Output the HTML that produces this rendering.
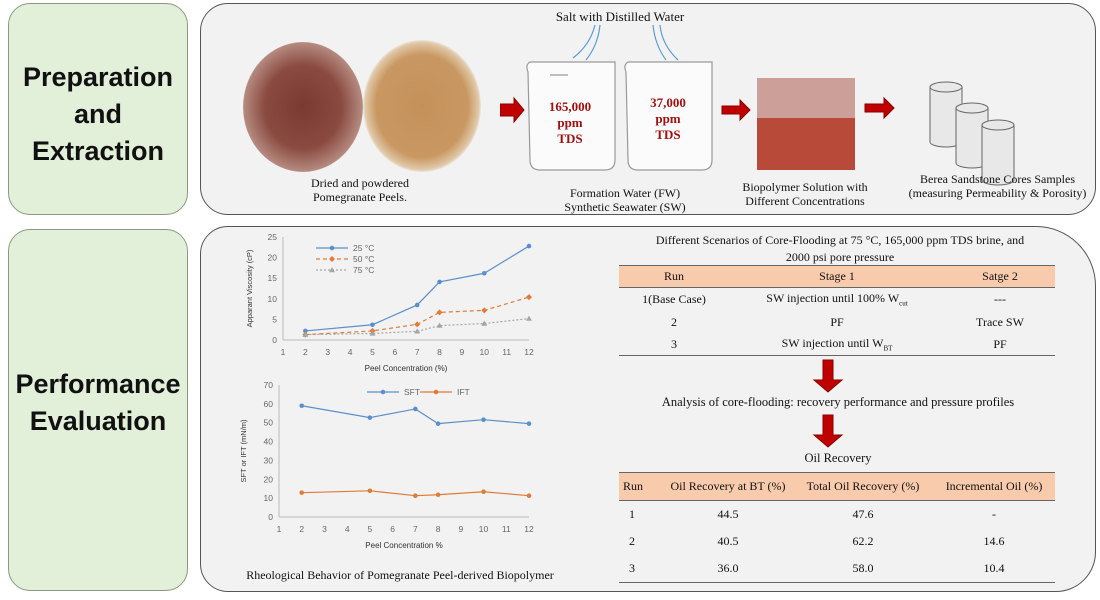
<!DOCTYPE html>
<html><head><meta charset="utf-8">
<style>
body{margin:0;width:1100px;height:600px;background:#fff;position:relative;overflow:hidden;font-family:"Liberation Serif",serif;color:#111}
.abs{position:absolute}
.green{background:#e2efd9;border:1px solid #8a9a80;border-radius:22px}
.gray{background:#f2f2f2;border:1.5px solid #555}
.big{font-family:"Liberation Sans",sans-serif;font-weight:bold;font-size:27px;text-align:center;line-height:37px}
.t{font-size:12px;text-align:center;line-height:14px}
.tbl td{padding:0;text-align:center;font-size:12px}
</style></head><body>
<div class="abs green" style="left:8px;top:3px;width:178px;height:210px"></div>
<div class="abs big" style="left:8px;top:59px;width:180px">Preparation<br>and<br>Extraction</div>
<div class="abs green" style="left:8px;top:229px;width:178px;height:360px"></div>
<div class="abs big" style="left:8px;top:366px;width:180px">Performance<br>Evaluation</div>

<div class="abs gray" style="left:200px;top:3px;width:894px;height:210px;border-radius:28px"></div>
<div class="abs gray" style="left:200px;top:226px;width:894px;height:364px;border-radius:28px 60px 40px 28px"></div>

<!-- top panel -->
<div class="abs" style="left:243px;top:42px;width:120px;height:130px;border-radius:50%;background:radial-gradient(ellipse,#7a3a32 0%,#8a4a40 45%,#b58a80 70%,#f2f2f2 72%)"></div>
<div class="abs" style="left:363px;top:40px;width:118px;height:132px;border-radius:50%;background:radial-gradient(ellipse,#c4915a 0%,#c99862 55%,#e0c8a8 68%,#f2f2f2 72%)"></div>
<div class="abs t" style="left:290px;top:176px;width:140px">Dried and powdered<br>Pomegranate Peels.</div>
<div class="abs t" style="left:540px;top:10px;width:160px;font-size:13px">Salt with Distilled Water</div>
<svg class="abs" style="left:500px;top:20px" width="600" height="200">
<g fill="#c00000" stroke="#800" stroke-width="1">
<polygon points="0,84 14,84 14,78 24,90 14,102 14,96 0,96"/>
<polygon points="222,86 240,86 240,80 250,90 240,100 240,94 222,94"/>
<polygon points="365,84 384,84 384,78 394,88 384,98 384,92 365,92"/>
</g>
<g fill="none" stroke="#999" stroke-width="1.2">
<path d="M28,52 Q25,45 30,42 L115,42 L115,140 Q115,150 105,150 L40,150 Q30,150 30,140 Z" fill="#fbfbfb"/>
<path d="M126,52 Q123,45 128,42 L212,42 L212,140 Q212,150 202,150 L138,150 Q128,150 128,140 Z" fill="#fbfbfb"/>
<path d="M50,55 L68,55"/>
</g>
<g stroke="#5b9bd5" fill="none" stroke-width="1.2"><path d="M95,5 Q90,25 73,38"/><path d="M100,5 Q98,25 86,40"/><path d="M153,5 Q155,25 166,40"/><path d="M160,5 Q162,25 178,40"/></g>
<rect x="257" y="58" width="98" height="92" fill="#b84a3a"/>
<rect x="257" y="58" width="98" height="40" fill="#d8d8d8" opacity="0.6"/>
<g fill="#e8e8e8" stroke="#666"><path d="M430,67 v55 a16,5 0 0 0 32,0 v-55"/><ellipse cx="446" cy="67" rx="16" ry="5"/>
<path d="M456,88 v55 a16,5 0 0 0 32,0 v-55"/><ellipse cx="472" cy="88" rx="16" ry="5"/>
<path d="M482,105 v55 a16,5 0 0 0 32,0 v-55"/><ellipse cx="498" cy="105" rx="16" ry="5"/></g>
</svg>
<div class="abs t" style="left:535px;top:99px;width:70px;color:#a01010;font-weight:bold;font-size:13px;line-height:16px">165,000<br>ppm<br>TDS</div>
<div class="abs t" style="left:633px;top:95px;width:70px;color:#a01010;font-weight:bold;font-size:13px;line-height:16px">37,000<br>ppm<br>TDS</div>
<div class="abs t" style="left:535px;top:186px;width:180px">Formation Water (FW)<br>Synthetic Seawater (SW)</div>
<div class="abs t" style="left:725px;top:180px;width:160px">Biopolymer Solution with<br>Different Concentrations</div>
<div class="abs t" style="left:900px;top:172px;width:195px">Berea Sandstone Cores Samples<br>(measuring Permeability &amp; Porosity)</div>

<!-- charts -->
<svg class="abs" style="left:0;top:0" width="600" height="600" id="charts" font-family="Liberation Sans, sans-serif"></svg>
<div class="abs t" style="left:240px;top:568px;width:320px">Rheological Behavior of Pomegranate Peel-derived Biopolymer</div>

<!-- right tables -->
<div class="abs t" style="left:620px;top:232px;width:440px;line-height:17px">Different Scenarios of Core-Flooding at 75 °C, 165,000 ppm TDS brine, and<br>2000 psi pore pressure</div>
<table class="abs tbl" style="left:619px;top:265px;width:436px;border-collapse:collapse;border-bottom:1.5px solid #666">
<tr style="background:#f8cbad;height:22px;border-top:1.5px solid #666;border-bottom:1.5px solid #666"><td style="width:110px">Run</td><td>Stage 1</td><td style="width:110px">Satge 2</td></tr>
<tr style="height:23px"><td>1(Base Case)</td><td>SW injection until 100% W<sub style="font-size:7px">cut</sub></td><td>---</td></tr>
<tr style="height:23px"><td>2</td><td>PF</td><td>Trace SW</td></tr>
<tr style="height:22px"><td>3</td><td>SW injection until W<sub style="font-size:7px">BT</sub></td><td>PF</td></tr></table>
<svg class="abs" style="left:810px;top:358px" width="36" height="95"><g fill="#c00000" stroke="#800"><polygon points="13,2 23,2 23,22 32,22 18,34 4,22 13,22"/><polygon points="13,57 23,57 23,77 32,77 18,89 4,77 13,77"/></g></svg>
<div class="abs t" style="left:620px;top:395px;width:436px;font-size:12.5px">Analysis of core-flooding: recovery performance and pressure profiles</div>
<div class="abs t" style="left:620px;top:451px;width:436px;font-size:12.5px">Oil Recovery</div>
<table class="abs tbl" style="left:619px;top:472px;width:436px;border-collapse:collapse;border-bottom:1.5px solid #666">
<tr style="background:#f8cbad;height:28px;border-top:1.5px solid #666;border-bottom:1.5px solid #666"><td style="width:40px;text-align:left;padding-left:4px">Run</td><td style="width:130px">Oil Recovery at BT (%)</td><td style="width:140px">Total Oil Recovery (%)</td><td>Incremental Oil (%)</td></tr>
<tr style="height:28px"><td style="text-align:left;padding-left:10px">1</td><td>44.5</td><td>47.6</td><td>-</td></tr>
<tr style="height:26px"><td style="text-align:left;padding-left:10px">2</td><td>40.5</td><td>62.2</td><td>14.6</td></tr>
<tr style="height:28px"><td style="text-align:left;padding-left:10px">3</td><td>36.0</td><td>58.0</td><td>10.4</td></tr></table>

<script>
const concentrations=[2,5,7,8,10,12];
const visc25=[2.2,3.7,8.5,14.1,16.2,22.8];
const visc50=[1.3,2.2,3.8,6.7,7.2,10.4];
const visc75=[1.3,1.6,2.1,3.5,4.0,5.2];
const sft=[59,52.7,57.3,49.5,51.6,49.5];
const ift=[12.9,13.9,11.3,11.8,13.4,11.3];
const xTicks=[1,2,3,4,5,6,7,8,9,10,11,12];
const viscTicks=[0,5,10,15,20,25];
const tensionTicks=[0,10,20,30,40,50,60,70];
const NS='http://www.w3.org/2000/svg';
const svg=document.getElementById('charts');
function el(tag,attrs,parent){const e=document.createElementNS(NS,tag);for(const k in attrs)e.setAttribute(k,attrs[k]);(parent||svg).appendChild(e);return e;}
function marker(shape,x,y,c,parent){
  if(shape==='tri') return el('polygon',{points:`${x},${y-3} ${x+3},${y+2.2} ${x-3},${y+2.2}`,fill:c},parent);
  if(shape==='dia') return el('polygon',{points:`${x},${y-3} ${x+3},${y} ${x},${y+3} ${x-3},${y}`,fill:c},parent);
  return el('circle',{cx:x,cy:y,r:2.3,fill:c},parent);
}
function chart(name,x0,x1,y0,y1,ymax,yTicks,series,xTitle,yTitle,ytx){
  const g=el('g',{});
  
  
  const sx=v=>x0+(v-1)/11*(x1-x0), sy=v=>y0-(v/ymax)*(y0-y1);
  el('line',{x1:x0,y1:y0,x2:x1,y2:y0,stroke:'#bbb'},g);
  el('line',{x1:x0,y1:y0,x2:x0,y2:y1,stroke:'#bbb'},g);
  xTicks.forEach(t=>{const tx=el('text',{x:sx(t),y:y0+15,'font-size':8.5,'text-anchor':'middle',fill:'#666'},g);tx.textContent=t;});
  yTicks.forEach(t=>{const tx=el('text',{x:x0-6,y:sy(t)+3,'font-size':8.5,'text-anchor':'end',fill:'#666'},g);tx.textContent=t;});
  const xt=el('text',{x:(x0+x1)/2,y:y0+31,'font-size':8,'text-anchor':'middle',fill:'#333'},g);xt.textContent=xTitle;
  const yt=el('text',{x:ytx,y:(y0+y1)/2,'font-size':7.5,'text-anchor':'middle',fill:'#333',transform:`rotate(-90 ${ytx} ${(y0+y1)/2})`},g);yt.textContent=yTitle;
  series.forEach(s=>{
    const sg=el('g',{},g);
    
    
    el('polyline',{points:s.vals.map((v,i)=>sx(concentrations[i])+','+sy(v)).join(' '),fill:'none',stroke:s.c,'stroke-width':1.2,'stroke-dasharray':s.d||''},sg);
    s.vals.forEach((v,i)=>{const m=marker(s.m,sx(concentrations[i]),sy(v),s.c,sg);
      
      });
    const lg=el('g',{},g);
    
    
    el('line',{x1:s.lx,y1:s.ly,x2:s.lx+32,y2:s.ly,stroke:s.c,'stroke-width':1.2,'stroke-dasharray':s.d||''},lg);
    marker(s.m,s.lx+16,s.ly,s.c,lg);
    const lt=el('text',{x:s.lx+37,y:s.ly+3,'font-size':8.5,fill:'#666'},lg);lt.textContent=s.label;
  });
}
chart('viscosity-chart',283,529,340,237,25,viscTicks,[
 {key:'25c',vals:visc25,c:'#5b8fc9',m:'circle',label:'25 °C',lx:316,ly:248},
 {key:'50c',vals:visc50,c:'#e07b39',m:'dia',d:'4,3',label:'50 °C',lx:316,ly:259},
 {key:'75c',vals:visc75,c:'#a5a5a5',m:'tri',d:'2,2',label:'75 °C',lx:316,ly:270}],
 'Peel Concentration  (%)','Apparant Viscosity (cP)',252);
chart('tension-chart',279,529,517,385,70,tensionTicks,[
 {key:'sft',vals:sft,c:'#5b8fc9',m:'circle',label:'SFT',lx:367,ly:392},
 {key:'ift',vals:ift,c:'#e07b39',m:'circle',label:'IFT',lx:420,ly:392}],
 'Peel Concentration  %','SFT or IFT (mN/m)',246);
</script>
</body></html>
